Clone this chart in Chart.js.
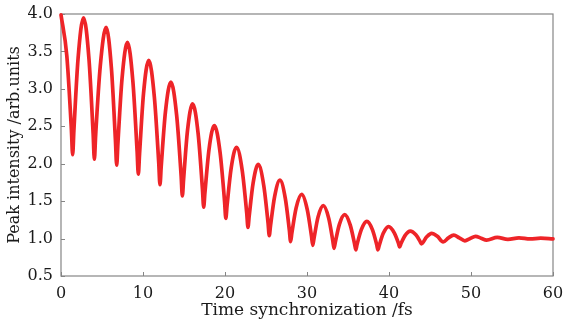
<!DOCTYPE html>
<html>
<head>
<meta charset="utf-8">
<script src="https://cdn.jsdelivr.net/npm/chart.js@4"></script>
<style>
html,body{margin:0;padding:0;background:#fff;}
#wrap{width:563px;height:329px;}
</style>
</head>
<body>
<div id="wrap"><canvas id="c" width="563" height="329"></canvas></div>
<script>
// Time synchronization (fs) and peak intensity (arb. units)
const timeFs = [
  0, 0.71, 1.27, 1.42, 1.57, 2.085, 2.75,
  3.41, 3.92, 4.07, 4.22, 4.785, 5.5,
  6.145, 6.64, 6.79, 6.94, 7.445, 8.1,
  8.765, 9.28, 9.43, 9.58, 10.065, 10.7,
  11.385, 11.92, 12.07, 12.22, 12.735, 13.4,
  14.1, 14.65, 14.8, 14.95, 15.425, 16.05,
  16.725, 17.25, 17.4, 17.55, 18.05, 18.7,
  19.4, 19.95, 20.1, 20.25, 20.75, 21.4,
  22.1, 22.65, 22.8, 22.95, 23.425, 24.05,
  24.725, 25.25, 25.4, 25.55, 26.05, 26.7,
  27.35, 27.85, 28.0, 28.15, 28.675, 29.35,
  30.025, 30.55, 30.7, 30.85, 31.35, 32.0,
  32.65, 33.15, 33.3, 33.45, 33.95, 34.6,
  35.275, 35.8, 35.95, 36.1, 36.625, 37.3,
  37.975, 38.5, 38.65, 38.8, 39.3, 39.95,
  40.625, 41.15, 41.3, 41.45, 41.95, 42.6,
  43.275, 43.8, 43.95, 44.575, 45.2,
  45.9, 46.6, 47.25, 47.9,
  48.575, 49.25, 49.9, 50.55,
  51.225, 51.9, 53.2, 54.5, 55.85, 57.2, 58.5, 60
];
const peakIntensity = [
  3.99, 3.44, 2.45, 2.12, 2.44, 3.41, 3.95,
  3.40, 2.40, 2.06, 2.37, 3.30, 3.82,
  3.28, 2.31, 1.98, 2.27, 3.14, 3.62,
  3.10, 2.17, 1.86, 2.13, 2.94, 3.38,
  2.89, 2.01, 1.72, 1.96, 2.69, 3.09,
  2.65, 1.84, 1.57, 1.79, 2.44, 2.80,
  2.40, 1.66, 1.42, 1.61, 2.19, 2.51,
  2.15, 1.49, 1.27, 1.44, 1.94, 2.22,
  1.91, 1.34, 1.15, 1.30, 1.74, 1.99,
  1.71, 1.21, 1.04, 1.17, 1.56, 1.78,
  1.54, 1.11, 0.96, 1.07, 1.41, 1.59,
  1.39, 1.03, 0.91, 1.00, 1.29, 1.44,
  1.27, 0.97, 0.87, 0.95, 1.19, 1.32,
  1.18, 0.93, 0.85, 0.92, 1.12, 1.23,
  1.12, 0.92, 0.85, 0.905, 1.07, 1.16,
  1.08, 0.94, 0.89, 0.93, 1.04, 1.10,
  1.05, 0.96, 0.93, 1.02, 1.07,
  1.03, 0.955, 1.01, 1.045,
  1.01, 0.97, 1.00, 1.03,
  1.005, 0.98, 1.015, 0.99, 1.01, 0.995, 1.005, 0.995
];
const xTicks = [0, 10, 20, 30, 40, 50, 60];
const yTicks = [0.5, 1.0, 1.5, 2.0, 2.5, 3.0, 3.5, 4.0];

const axisColor = '#858585';
const textColor = '#1a1a1a';
const fontFamily = '"DejaVu Serif", "Liberation Serif", serif';

const framePlugin = {
  id: 'frame',
  beforeDatasetsDraw(chart) {
    const {ctx, chartArea: a, scales: {x, y}} = chart;
    ctx.save();
    ctx.strokeStyle = axisColor;
    ctx.lineWidth = 1.2;
    ctx.strokeRect(a.left, a.top, a.right - a.left, a.bottom - a.top);
    ctx.lineWidth = 1;
    ctx.beginPath();
    x.ticks.forEach(t => {
      const px = Math.round(x.getPixelForValue(t.value)) + 0.5;
      ctx.moveTo(px, a.bottom);
      ctx.lineTo(px, a.bottom - 4);
    });
    y.ticks.forEach(t => {
      const py = Math.round(y.getPixelForValue(t.value)) + 0.5;
      ctx.moveTo(a.left, py);
      ctx.lineTo(a.left + 4, py);
    });
    ctx.stroke();
    ctx.restore();
  }
};

const points = timeFs.map((t, i) => ({x: t, y: peakIntensity[i]}));

new Chart(document.getElementById('c'), {
  type: 'line',
  data: {
    datasets: [{
      data: points,
      borderColor: '#ee2428',
      borderWidth: 3.7,
      pointRadius: 0,
      cubicInterpolationMode: 'monotone',
      borderJoinStyle: 'round',
      borderCapStyle: 'round',
      clip: 6,
      fill: false
    }]
  },
  options: {
    responsive: false,
    animation: false,
    events: [],
    layout: {padding: {top: 14, right: 10, left: 0, bottom: 0}},
    plugins: {legend: {display: false}, tooltip: {enabled: false}},
    scales: {
      x: {
        type: 'linear',
        min: 0, max: 60,
        afterBuildTicks: s => { s.ticks = xTicks.map(v => ({value: v})); },
        afterFit: s => { s.height = 53; s.paddingLeft = 0; s.paddingRight = 0; },
        grid: {display: false, drawTicks: false},
        border: {display: false},
        ticks: {
          padding: 8,
          color: textColor,
          font: {family: fontFamily, size: 16},
          maxRotation: 0,
          autoSkip: false,
          callback: v => String(v)
        },
        title: {
          display: true,
          text: 'Time synchronization /fs',
          color: textColor,
          font: {family: fontFamily, size: 17},
          padding: {top: 0, bottom: 8}
        }
      },
      y: {
        type: 'linear',
        min: 0.5, max: 4.0,
        afterBuildTicks: s => { s.ticks = yTicks.map(v => ({value: v})); },
        afterFit: s => { s.width = 61; s.paddingTop = 0; s.paddingBottom = 0; },
        grid: {display: false, drawTicks: false},
        border: {display: false},
        ticks: {
          padding: 8,
          color: textColor,
          font: {family: fontFamily, size: 16},
          autoSkip: false,
          callback: v => Number(v).toFixed(1)
        },
        title: {
          display: true,
          text: 'Peak intensity /arb.units',
          color: textColor,
          font: {family: fontFamily, size: 16},
          padding: {top: 5, bottom: 0}
        }
      }
    }
  },
  plugins: [framePlugin]
});
</script>
</body>
</html>
